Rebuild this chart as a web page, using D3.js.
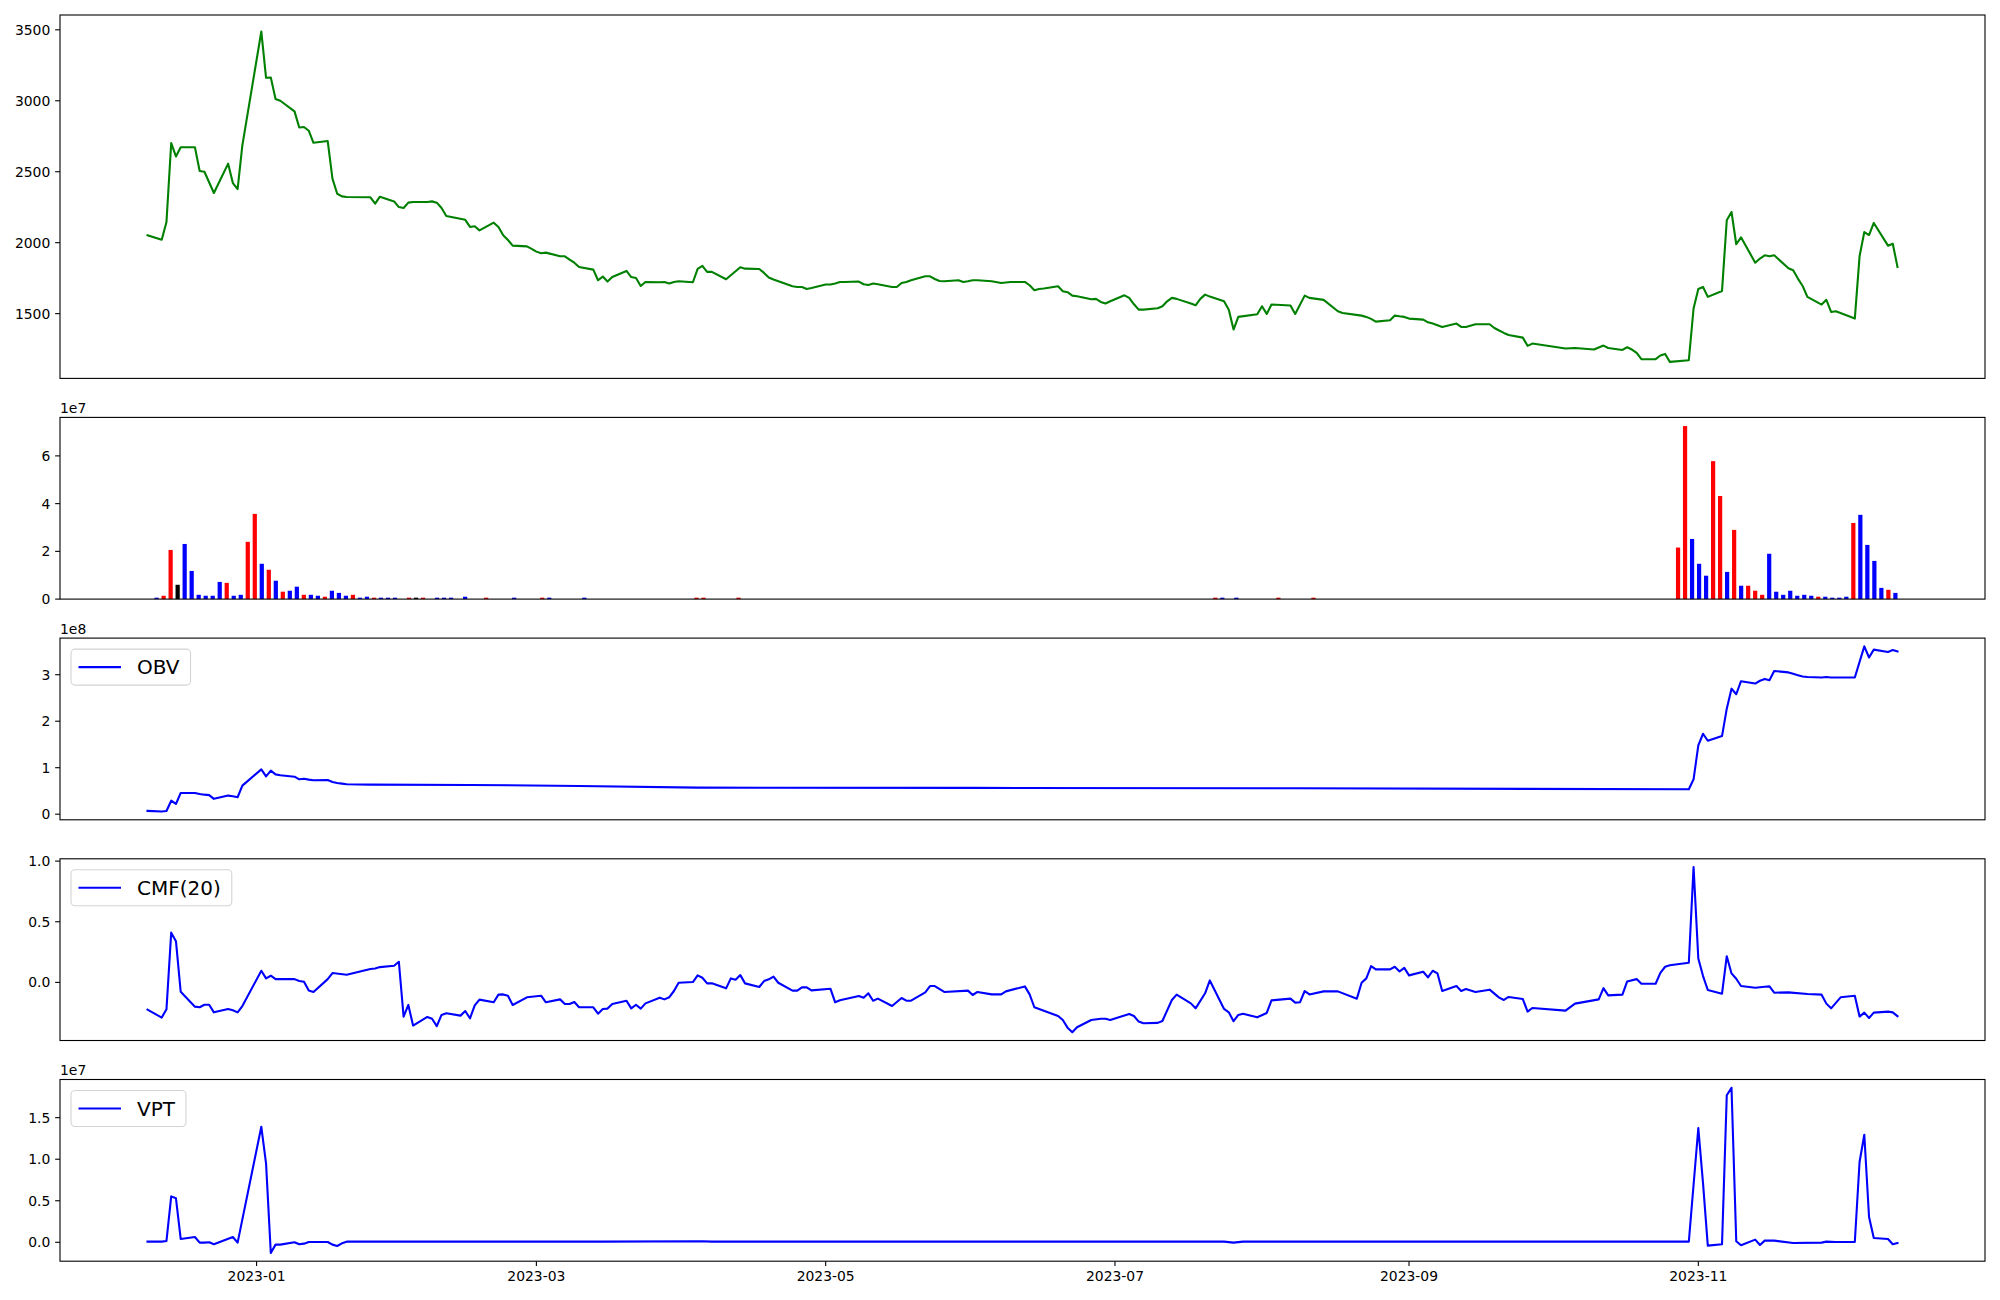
<!DOCTYPE html>
<html>
<head>
<meta charset="utf-8">
<script src="https://cdn.jsdelivr.net/npm/d3@7"></script>
<style>
html,body{margin:0;padding:0;background:#fff;}
svg{display:block;font-family:"DejaVu Sans",sans-serif;}
</style>
</head>
<body>
<svg id="chart" width="2000" height="1300"></svg>
<script>
// ---------------- DATA ----------------
const priceDates = ["2022-12-09","2022-12-12","2022-12-13","2022-12-14","2022-12-15","2022-12-16","2022-12-19","2022-12-20","2022-12-21","2022-12-23","2022-12-26","2022-12-27","2022-12-28","2022-12-29","2023-01-02","2023-01-03","2023-01-04","2023-01-05","2023-01-06","2023-01-09","2023-01-10","2023-01-11","2023-01-12","2023-01-13","2023-01-16","2023-01-17","2023-01-18","2023-01-19","2023-01-20","2023-01-25","2023-01-26","2023-01-27","2023-01-30","2023-01-31","2023-02-01","2023-02-02","2023-02-03","2023-02-06","2023-02-07","2023-02-08","2023-02-09","2023-02-10","2023-02-14","2023-02-15","2023-02-16","2023-02-17","2023-02-20","2023-02-21","2023-02-22","2023-02-23","2023-02-24","2023-02-27","2023-02-28","2023-03-01","2023-03-02","2023-03-03","2023-03-06","2023-03-07","2023-03-08","2023-03-09","2023-03-10","2023-03-13","2023-03-14","2023-03-15","2023-03-16","2023-03-17","2023-03-20","2023-03-21","2023-03-22","2023-03-23","2023-03-24","2023-03-27","2023-03-28","2023-03-29","2023-03-30","2023-03-31","2023-04-03","2023-04-04","2023-04-05","2023-04-06","2023-04-07","2023-04-10","2023-04-13","2023-04-14","2023-04-17","2023-04-18","2023-04-19","2023-04-20","2023-04-24","2023-04-25","2023-04-26","2023-04-27","2023-04-28","2023-05-01","2023-05-02","2023-05-03","2023-05-04","2023-05-05","2023-05-08","2023-05-09","2023-05-10","2023-05-11","2023-05-12","2023-05-15","2023-05-16","2023-05-17","2023-05-18","2023-05-19","2023-05-22","2023-05-23","2023-05-24","2023-05-25","2023-05-26","2023-05-29","2023-05-30","2023-05-31","2023-06-01","2023-06-02","2023-06-05","2023-06-07","2023-06-09","2023-06-12","2023-06-13","2023-06-14","2023-06-15","2023-06-16","2023-06-19","2023-06-20","2023-06-21","2023-06-22","2023-06-23","2023-06-26","2023-06-27","2023-06-28","2023-06-29","2023-06-30","2023-07-03","2023-07-04","2023-07-05","2023-07-06","2023-07-07","2023-07-10","2023-07-11","2023-07-12","2023-07-13","2023-07-14","2023-07-17","2023-07-18","2023-07-19","2023-07-20","2023-07-21","2023-07-24","2023-07-25","2023-07-26","2023-07-27","2023-07-31","2023-08-01","2023-08-02","2023-08-03","2023-08-07","2023-08-08","2023-08-10","2023-08-11","2023-08-14","2023-08-17","2023-08-18","2023-08-22","2023-08-23","2023-08-24","2023-08-25","2023-08-28","2023-08-29","2023-08-30","2023-08-31","2023-09-01","2023-09-04","2023-09-05","2023-09-06","2023-09-08","2023-09-11","2023-09-12","2023-09-13","2023-09-15","2023-09-18","2023-09-19","2023-09-20","2023-09-21","2023-09-22","2023-09-25","2023-09-26","2023-09-27","2023-10-04","2023-10-06","2023-10-10","2023-10-12","2023-10-13","2023-10-16","2023-10-17","2023-10-18","2023-10-19","2023-10-20","2023-10-23","2023-10-24","2023-10-25","2023-10-26","2023-10-30","2023-10-31","2023-11-01","2023-11-02","2023-11-03","2023-11-06","2023-11-07","2023-11-08","2023-11-09","2023-11-10","2023-11-13","2023-11-14","2023-11-15","2023-11-16","2023-11-17","2023-11-20","2023-11-21","2023-11-22","2023-11-23","2023-11-24","2023-11-27","2023-11-28","2023-11-29","2023-11-30","2023-12-04","2023-12-05","2023-12-06","2023-12-07","2023-12-08","2023-12-11","2023-12-12","2023-12-13"];
const priceValues = [2052,2021,2146,2702,2608,2672,2672,2505,2500,2350,2557,2420,2378,2686,3488,3162,3164,3012,3000,2925,2812,2815,2789,2704,2716,2451,2345,2326,2322,2320,2275,2324,2291,2251,2244,2282,2287,2287,2291,2282,2244,2188,2161,2111,2116,2087,2141,2111,2052,2019,1979,1974,1956,1937,1925,1930,1904,1904,1881,1859,1829,1810,1735,1761,1726,1758,1801,1758,1751,1695,1723,1721,1723,1712,1723,1728,1721,1815,1836,1794,1794,1742,1827,1817,1815,1787,1754,1740,1693,1688,1688,1674,1681,1705,1705,1712,1723,1723,1726,1707,1702,1712,1707,1688,1688,1716,1723,1735,1763,1763,1744,1730,1728,1735,1723,1728,1735,1735,1728,1716,1723,1723,1700,1665,1674,1677,1693,1658,1651,1627,1623,1601,1604,1582,1571,1587,1629,1611,1566,1528,1528,1538,1552,1587,1611,1604,1571,1559,1604,1634,1620,1587,1528,1388,1477,1496,1552,1498,1564,1557,1498,1627,1611,1597,1517,1505,1486,1477,1463,1444,1453,1486,1481,1477,1465,1458,1439,1430,1406,1430,1406,1406,1425,1425,1399,1381,1364,1350,1331,1273,1289,1254,1258,1247,1275,1258,1244,1263,1247,1223,1179,1179,1205,1216,1160,1172,1536,1674,1688,1618,1660,2158,2216,1989,2038,1859,1888,1911,1904,1911,1820,1806,1747,1695,1618,1564,1597,1512,1517,1465,1904,2075,2054,2139,1979,1993,1829];

// daily volume bars (one per trading session, drawn by session index)
const volume = [
0,6e5,1.4e6,2.06e7,6.0e6,2.31e7,1.18e7,1.8e6,1.4e6,1.4e6,
7.2e6,6.8e6,1.4e6,1.8e6,2.40e7,3.57e7,1.48e7,1.23e7,7.7e6,3.1e6,
3.5e6,5.2e6,1.8e6,1.8e6,1.4e6,1.0e6,3.5e6,2.6e6,1.4e6,1.8e6,
6e5,1.0e6,6e5,6e5,6e5,6e5,0,6e5,6e5,6e5,
0,6e5,6e5,6e5,0,1.0e6,0,0,6e5,0,
0,0,6e5,0,0,0,6e5,6e5,0,0,
0,0,6e5,0,0,0,0,0,0,0,
0,0,0,0,0,0,0,0,6e5,6e5,
0,0,0,0,6e5,0,0,0,0,0,
0,0,0,0,0,0,0,0,0,0,
0,0,0,0,0,0,0,0,0,0,
0,0,0,0,0,0,0,0,0,0,
0,0,0,0,0,0,0,0,0,0,
0,0,0,0,0,0,0,0,0,0,
0,0,0,0,0,0,0,0,0,0,
0,0,6e5,6e5,0,6e5,0,0,0,0,
0,6e5,0,0,0,0,6e5,0,0,0,
0,0,0,0,0,0,0,0,0,0,
0,0,0,0,0,0,0,0,0,0,
0,0,0,0,0,0,0,0,0,0,
0,0,0,0,0,0,0,0,0,0,
0,0,0,0,0,0,0,0,2.16e7,7.25e7,
2.52e7,1.48e7,9.8e6,5.78e7,4.32e7,1.14e7,2.90e7,5.6e6,5.6e6,3.5e6,
1.8e6,1.90e7,3.1e6,1.8e6,3.5e6,1.4e6,1.8e6,1.4e6,1.0e6,1.0e6,
6e5,6e5,1.0e6,3.19e7,3.53e7,2.27e7,1.60e7,4.7e6,3.9e6,2.6e6];
// r = up day, b = down day, k = unchanged
const volumeDir =
"bbrrkbbbbb"+"brbbrrbrbr"+"bbrbbrbbbr"+"bbrbbbbrkr"+"bbbbbbbbrb"+
"bbbbbbrbbb"+"bbbbbbbbbb"+"bbbbbbbbrr"+"bbbbrbbbbb"+"bbbbbbbbbb"+
"bbbbbbbbbb"+"bbbbbbbbbb"+"bbbbbbbbbb"+"bbbbbbbbbb"+"bbbbbbbbbb"+
"bbrbbbbbbb"+"brbbbbrbbb"+"bbbbbbbbbb"+"bbbbbbbbbb"+"bbbbbbbbbb"+
"bbbbbbbbbb"+"bbbbbbbbrr"+"bbbrrbrbrr"+"rbbbbbbbrb"+"bbbrbbbbrb";

const obvDates = ["2022-12-09","2022-12-12","2022-12-13","2022-12-14","2022-12-15","2022-12-16","2022-12-19","2022-12-20","2022-12-21","2022-12-22","2022-12-23","2022-12-26","2022-12-27","2022-12-28","2022-12-29","2023-01-02","2023-01-03","2023-01-04","2023-01-05","2023-01-06","2023-01-09","2023-01-10","2023-01-11","2023-01-12","2023-01-13","2023-01-16","2023-01-17","2023-01-18","2023-01-19","2023-01-20","2023-01-25","2023-02-15","2023-03-10","2023-04-04","2023-06-01","2023-08-08","2023-10-30","2023-10-31","2023-11-01","2023-11-02","2023-11-03","2023-11-06","2023-11-07","2023-11-08","2023-11-09","2023-11-10","2023-11-13","2023-11-14","2023-11-15","2023-11-16","2023-11-17","2023-11-20","2023-11-21","2023-11-22","2023-11-23","2023-11-24","2023-11-27","2023-11-28","2023-11-29","2023-12-04","2023-12-06","2023-12-07","2023-12-08","2023-12-11","2023-12-12","2023-12-13"];
const obvValues = [7.1e6,5.7e6,7.0e6,2.9e7,2.2e7,4.57e7,4.57e7,4.36e7,4.2e7,4.1e7,3.3e7,4.0e7,3.86e7,3.64e7,6.14e7,9.64e7,8.14e7,9.36e7,8.57e7,8.36e7,8.07e7,7.5e7,7.64e7,7.43e7,7.29e7,7.36e7,6.93e7,6.71e7,6.57e7,6.43e7,6.36e7,6.29e7,6.07e7,5.71e7,5.65e7,5.57e7,5.36e7,7.5e7,1.48e8,1.73e8,1.58e8,1.68e8,2.27e8,2.70e8,2.58e8,2.86e8,2.81e8,2.87e8,2.91e8,2.88e8,3.08e8,3.05e8,3.02e8,2.99e8,2.96e8,2.95e8,2.94e8,2.95e8,2.94e8,2.94e8,3.61e8,3.37e8,3.54e8,3.49e8,3.53e8,3.50e8];

const cmfDates = ["2022-12-09","2022-12-12","2022-12-13","2022-12-14","2022-12-15","2022-12-16","2022-12-19","2022-12-20","2022-12-21","2022-12-22","2022-12-23","2022-12-26","2022-12-27","2022-12-28","2022-12-29","2023-01-02","2023-01-03","2023-01-04","2023-01-05","2023-01-09","2023-01-10","2023-01-11","2023-01-12","2023-01-13","2023-01-16","2023-01-17","2023-01-20","2023-01-25","2023-01-26","2023-01-27","2023-01-30","2023-01-31","2023-02-01","2023-02-02","2023-02-03","2023-02-06","2023-02-07","2023-02-08","2023-02-09","2023-02-10","2023-02-13","2023-02-14","2023-02-15","2023-02-16","2023-02-17","2023-02-20","2023-02-21","2023-02-22","2023-02-23","2023-02-24","2023-02-27","2023-02-28","2023-03-02","2023-03-03","2023-03-06","2023-03-07","2023-03-08","2023-03-09","2023-03-10","2023-03-13","2023-03-14","2023-03-15","2023-03-16","2023-03-17","2023-03-20","2023-03-21","2023-03-22","2023-03-23","2023-03-24","2023-03-27","2023-03-28","2023-03-29","2023-03-30","2023-03-31","2023-04-03","2023-04-04","2023-04-05","2023-04-06","2023-04-07","2023-04-10","2023-04-11","2023-04-12","2023-04-13","2023-04-14","2023-04-17","2023-04-18","2023-04-19","2023-04-20","2023-04-21","2023-04-24","2023-04-25","2023-04-26","2023-04-27","2023-04-28","2023-05-02","2023-05-03","2023-05-04","2023-05-08","2023-05-09","2023-05-10","2023-05-11","2023-05-12","2023-05-15","2023-05-17","2023-05-18","2023-05-19","2023-05-22","2023-05-23","2023-05-24","2023-05-26","2023-05-31","2023-06-01","2023-06-02","2023-06-05","2023-06-07","2023-06-08","2023-06-12","2023-06-13","2023-06-14","2023-06-19","2023-06-20","2023-06-21","2023-06-22","2023-06-23","2023-06-26","2023-06-28","2023-06-29","2023-06-30","2023-07-04","2023-07-05","2023-07-06","2023-07-07","2023-07-10","2023-07-11","2023-07-13","2023-07-14","2023-07-17","2023-07-18","2023-07-20","2023-07-21","2023-07-24","2023-07-25","2023-07-26","2023-07-27","2023-07-28","2023-07-31","2023-08-02","2023-08-03","2023-08-07","2023-08-08","2023-08-09","2023-08-10","2023-08-11","2023-08-14","2023-08-17","2023-08-21","2023-08-22","2023-08-23","2023-08-24","2023-08-25","2023-08-28","2023-08-29","2023-08-30","2023-08-31","2023-09-01","2023-09-04","2023-09-05","2023-09-06","2023-09-07","2023-09-08","2023-09-11","2023-09-12","2023-09-13","2023-09-15","2023-09-18","2023-09-20","2023-09-21","2023-09-22","2023-09-25","2023-09-26","2023-09-27","2023-10-04","2023-10-06","2023-10-11","2023-10-12","2023-10-13","2023-10-16","2023-10-17","2023-10-19","2023-10-20","2023-10-23","2023-10-24","2023-10-25","2023-10-26","2023-10-30","2023-10-31","2023-11-01","2023-11-02","2023-11-03","2023-11-06","2023-11-07","2023-11-08","2023-11-09","2023-11-10","2023-11-13","2023-11-15","2023-11-16","2023-11-17","2023-11-20","2023-11-24","2023-11-27","2023-11-28","2023-11-29","2023-12-01","2023-12-04","2023-12-05","2023-12-06","2023-12-07","2023-12-08","2023-12-11","2023-12-12","2023-12-13"];
const cmfValues = [-0.225,-0.29,-0.222,0.41,0.34,-0.077,-0.2,-0.205,-0.184,-0.184,-0.247,-0.219,-0.23,-0.247,-0.195,0.096,0.033,0.055,0.027,0.027,0.011,0.005,-0.066,-0.079,0.027,0.077,0.063,0.11,0.115,0.126,0.137,0.17,-0.282,-0.186,-0.356,-0.285,-0.30,-0.36,-0.268,-0.255,-0.274,-0.236,-0.296,-0.19,-0.142,-0.164,-0.101,-0.099,-0.11,-0.186,-0.123,-0.118,-0.11,-0.164,-0.14,-0.178,-0.178,-0.162,-0.205,-0.205,-0.258,-0.219,-0.216,-0.178,-0.151,-0.214,-0.184,-0.216,-0.173,-0.126,-0.14,-0.123,-0.071,-0.003,0.003,0.058,0.038,-0.008,-0.008,-0.049,0.033,0.022,0.06,-0.008,-0.038,0.011,0.025,0.047,-0.003,-0.068,-0.068,-0.041,-0.041,-0.066,-0.052,-0.164,-0.148,-0.112,-0.126,-0.09,-0.151,-0.134,-0.195,-0.129,-0.151,-0.151,-0.082,-0.03,-0.03,-0.079,-0.068,-0.104,-0.079,-0.099,-0.099,-0.074,-0.033,-0.099,-0.205,-0.277,-0.31,-0.373,-0.411,-0.37,-0.31,-0.3,-0.3,-0.31,-0.26,-0.277,-0.323,-0.337,-0.334,-0.318,-0.145,-0.101,-0.173,-0.214,-0.09,0.016,-0.219,-0.247,-0.32,-0.268,-0.258,-0.288,-0.252,-0.148,-0.134,-0.167,-0.164,-0.071,-0.099,-0.074,-0.074,-0.134,-0.003,0.033,0.134,0.107,0.107,0.129,0.09,0.12,0.058,0.088,0.041,0.096,0.074,-0.071,-0.03,-0.071,-0.055,-0.079,-0.06,-0.126,-0.145,-0.12,-0.137,-0.241,-0.211,-0.233,-0.175,-0.14,-0.047,-0.107,-0.101,0.008,0.027,-0.011,-0.011,0.079,0.129,0.142,0.162,0.951,0.197,0.052,-0.063,-0.093,0.216,0.074,0.03,-0.03,-0.044,-0.036,-0.033,-0.085,-0.082,-0.096,-0.101,-0.175,-0.214,-0.123,-0.11,-0.282,-0.249,-0.293,-0.249,-0.241,-0.247,-0.279];

const vptDates = ["2022-12-09","2022-12-12","2022-12-13","2022-12-14","2022-12-15","2022-12-16","2022-12-19","2022-12-20","2022-12-21","2022-12-22","2022-12-23","2022-12-27","2022-12-28","2023-01-02","2023-01-03","2023-01-04","2023-01-05","2023-01-06","2023-01-09","2023-01-10","2023-01-11","2023-01-12","2023-01-16","2023-01-17","2023-01-18","2023-01-19","2023-01-20","2023-03-15","2023-04-05","2023-04-07","2023-07-24","2023-07-26","2023-07-28","2023-10-30","2023-11-01","2023-11-02","2023-11-03","2023-11-06","2023-11-07","2023-11-08","2023-11-09","2023-11-10","2023-11-13","2023-11-14","2023-11-15","2023-11-17","2023-11-21","2023-11-27","2023-11-28","2023-11-30","2023-12-04","2023-12-05","2023-12-06","2023-12-07","2023-12-08","2023-12-11","2023-12-12","2023-12-13"];
const vptValues = [8e4,8e4,1.6e5,5.53e6,5.3e6,4.0e5,6.4e5,-4e4,-4e4,0,-2.4e5,6.4e5,-4e4,1.39e7,9.47e6,-1.28e6,-2.8e5,-2.8e5,0,-2.4e5,-1.6e5,4e4,4e4,-2.8e5,-4.4e5,-1.2e5,8e4,8e4,1.2e5,8e4,8e4,-4e4,8e4,8e4,1.376e7,7.06e6,-4e5,-2.4e5,1.77e7,1.86e7,1.2e5,-3.6e5,3.2e5,-3.2e5,2e5,2e5,-8e4,-4e4,8e4,4e4,4e4,9.67e6,1.295e7,3.05e6,5.2e5,4e5,-2.4e5,-8e4];

const xTickLabels = ["2023-01","2023-03","2023-05","2023-07","2023-09","2023-11"];
const priceTicks = [1500,2000,2500,3000,3500];
const volumeTicks = [0,2e7,4e7,6e7];
const obvTicks = [0,1e8,2e8,3e8];
const cmfTicks = [0,0.5,1.0];
const vptTicks = [0,0.5e7,1.0e7,1.5e7];

// ---------------- LAYOUT ----------------
const svg = d3.select("#chart");
const L = 60, R = 1985, TOP = 15, BOT = 1261.2, GAP = 39;
const ratios = [2,1,1,1,1];
const unitH = (BOT - TOP - GAP*4) / d3.sum(ratios);
const panels = [];
let yy = TOP;
ratios.forEach(r => { panels.push({top: yy, bottom: yy + r*unitH}); yy += r*unitH + GAP; });

const parse = d3.timeParse("%Y-%m-%d");
const parseM = d3.timeParse("%Y-%m");
const pDates = priceDates.map(parse);
const t0 = pDates[0], t1 = pDates[pDates.length-1];
const span = t1 - t0;
const x = d3.scaleTime().domain([new Date(+t0 - 0.05*span), new Date(+t1 + 0.05*span)]).range([L, R]);

const BW = 0.6;
const nBars = volume.length;
const bExt = (nBars - 1) + BW;
const xb = d3.scaleLinear().domain([-BW/2 - 0.05*bExt, nBars - 1 + BW/2 + 0.05*bExt]).range([L, R]);

const FONT = "DejaVu Sans";
const TICKFS = 13.9;

function padDomain(vals){
  const [a,b] = d3.extent(vals); const m = (b-a)*0.05; return [a-m, b+m];
}

function yAxis(g, y, ticks, fmt){
  ticks.forEach(t => {
    const py = y(t);
    g.append("line").attr("x1", L-4.86).attr("x2", L).attr("y1", py).attr("y2", py)
      .attr("stroke","#000").attr("stroke-width",1.1);
    g.append("text").attr("x", L-4.86-4.86).attr("y", py).attr("dy","0.36em")
      .attr("text-anchor","end").attr("font-size",TICKFS).attr("font-family",FONT).attr("fill","#000")
      .text(fmt(t));
  });
}
function frame(g, p){
  g.append("rect").attr("x",L).attr("y",p.top).attr("width",R-L).attr("height",p.bottom-p.top)
    .attr("fill","none").attr("stroke","#000").attr("stroke-width",1.1);
}
function clip(id, p){
  svg.append("clipPath").attr("id",id).append("rect")
    .attr("x",L).attr("y",p.top).attr("width",R-L).attr("height",p.bottom-p.top);
}
function offsetText(g, p, txt){
  g.append("text").attr("x",L).attr("y",p.top-4.5).attr("font-size",TICKFS).attr("font-family",FONT)
    .attr("fill","#000").text(txt);
}
function lineSeries(g, dates, vals, y, color, clipId){
  const data = dates.map((d,i)=>[parse(d), vals[i]]);
  g.append("path").datum(data)
    .attr("d", d3.line().x(d=>x(d[0])).y(d=>y(d[1])))
    .attr("fill","none").attr("stroke",color).attr("stroke-width",2.1)
    .attr("stroke-linejoin","round").attr("stroke-linecap","square")
    .attr("clip-path",`url(#${clipId})`);
}
function legend(g, p, label){
  const lx = L + 11, ly = p.top + 11, h = 36, fs = 20;
  const box = g.append("rect").attr("x",lx).attr("y",ly).attr("height",h).attr("rx",4).attr("ry",4)
    .attr("fill","#fff").attr("fill-opacity",0.8).attr("stroke","#d4d4d4").attr("stroke-width",1.1);
  g.append("line").attr("x1",lx+7.5).attr("x2",lx+50).attr("y1",ly+h/2).attr("y2",ly+h/2)
    .attr("stroke","#0000ff").attr("stroke-width",2.1);
  const t = g.append("text").attr("x",lx+66).attr("y",ly+h/2).attr("dy","0.36em")
    .attr("font-size",fs).attr("font-family",FONT).attr("fill","#000").text(label);
  const tw = t.node().getComputedTextLength();
  box.attr("width", 66 + tw + 11);
}

// ---------- Panel 1: price ----------
{
  const p = panels[0];
  const g = svg.append("g");
  const y = d3.scaleLinear().domain(padDomain(priceValues)).range([p.bottom, p.top]);
  clip("c0", p);
  lineSeries(g, priceDates, priceValues, y, "#008000", "c0");
  yAxis(g, y, priceTicks, d3.format("d"));
  frame(g, p);
}
// ---------- Panel 2: volume bars ----------
{
  const p = panels[1];
  const g = svg.append("g");
  const y = d3.scaleLinear().domain([0, d3.max(volume)*1.05]).range([p.bottom, p.top]);
  const colorOf = {r:"#ff0000", b:"#0000ff", k:"#000000"};
  const bw = xb(BW) - xb(0);
  g.selectAll("rect.bar").data(volume).enter().append("rect").attr("class","bar")
    .attr("x",(d,i)=>xb(i)-bw/2).attr("width",bw)
    .attr("y",d=>y(d)).attr("height",d=>y(0)-y(d))
    .attr("fill",(d,i)=>colorOf[volumeDir[i]]);
  yAxis(g, y, volumeTicks, t=>String(t/1e7));
  offsetText(g, p, "1e7");
  frame(g, p);
}
// ---------- Panel 3: OBV ----------
{
  const p = panels[2];
  const g = svg.append("g");
  const y = d3.scaleLinear().domain(padDomain(obvValues)).range([p.bottom, p.top]);
  clip("c2", p);
  lineSeries(g, obvDates, obvValues, y, "#0000ff", "c2");
  yAxis(g, y, obvTicks, t=>String(t/1e8));
  offsetText(g, p, "1e8");
  frame(g, p);
  legend(g, p, "OBV");
}
// ---------- Panel 4: CMF ----------
{
  const p = panels[3];
  const g = svg.append("g");
  const y = d3.scaleLinear().domain(padDomain(cmfValues)).range([p.bottom, p.top]);
  clip("c3", p);
  lineSeries(g, cmfDates, cmfValues, y, "#0000ff", "c3");
  yAxis(g, y, cmfTicks, d3.format(".1f"));
  frame(g, p);
  legend(g, p, "CMF(20)");
}
// ---------- Panel 5: VPT ----------
{
  const p = panels[4];
  const g = svg.append("g");
  const y = d3.scaleLinear().domain(padDomain(vptValues)).range([p.bottom, p.top]);
  clip("c4", p);
  lineSeries(g, vptDates, vptValues, y, "#0000ff", "c4");
  yAxis(g, y, vptTicks, t=>(t/1e7).toFixed(1));
  offsetText(g, p, "1e7");
  frame(g, p);
  legend(g, p, "VPT");
  // x axis
  xTickLabels.forEach(lbl => {
    const px = x(parseM(lbl));
    g.append("line").attr("x1",px).attr("x2",px).attr("y1",p.bottom).attr("y2",p.bottom+4.86)
      .attr("stroke","#000").attr("stroke-width",1.1);
    g.append("text").attr("x",px).attr("y",p.bottom+4.86+4.86).attr("dy","0.76em")
      .attr("text-anchor","middle").attr("font-size",TICKFS).attr("font-family",FONT).attr("fill","#000")
      .text(lbl);
  });
}
</script>
</body>
</html>
